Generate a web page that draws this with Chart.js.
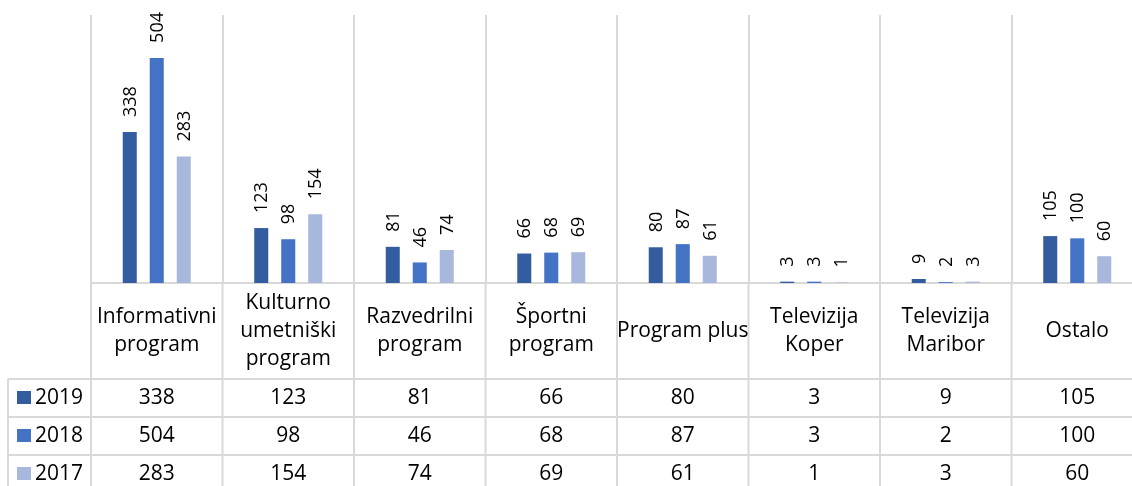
<!DOCTYPE html>
<html>
<head>
<meta charset="utf-8">
<script src="https://cdn.jsdelivr.net/npm/chart.js@4.4.1/dist/chart.umd.min.js"></script>
<style>
  body { margin: 0; overflow: hidden; background: #fff; }
  canvas { display: block; }
</style>
</head>
<body>
<canvas id="chart" width="1150" height="500"></canvas>
<script>
const categories = [
  ["Informativni", "program"],
  ["Kulturno", "umetniški", "program"],
  ["Razvedrilni", "program"],
  ["Športni", "program"],
  ["Program plus"],
  ["Televizija", "Koper"],
  ["Televizija", "Maribor"],
  ["Ostalo"],
];
const years = ["2019", "2018", "2017"];
const values2019 = [338, 123, 81, 66, 80, 3, 9, 105];
const values2018 = [504, 98, 46, 68, 87, 3, 2, 100];
const values2017 = [283, 154, 74, 69, 61, 1, 3, 60];
const colors = ["#345D9F", "#4472C4", "#A8B7DC"];

const FONT = "'Open Sans', sans-serif";
const GRID = "#D9D9D9";

// rotated value labels above each bar
const barLabels = {
  id: "barLabels",
  afterDatasetsDraw(chart) {
    const ctx = chart.ctx;
    ctx.save();
    ctx.fillStyle = "#000";
    ctx.font = "18px " + FONT;
    ctx.textAlign = "left";
    ctx.textBaseline = "middle";
    chart.data.datasets.forEach((ds, i) => {
      chart.getDatasetMeta(i).data.forEach((bar, j) => {
        ctx.save();
        ctx.translate(bar.x + 1, bar.y - 15);
        ctx.rotate(-Math.PI / 2);
        ctx.fillText(String(ds.data[j]), 0, 0);
        ctx.restore();
      });
    });
    ctx.restore();
  },
};

// data table under the plot, like Excel's
const dataTable = {
  id: "dataTable",
  afterDraw(chart) {
    const ctx = chart.ctx;
    const x = chart.scales.x;
    const half = (x.getPixelForValue(1) - x.getPixelForValue(0)) / 2;
    const top = chart.chartArea.bottom;
    const headerH = 96;
    const rowH = 38;
    const left = 8;
    const right = chart.chartArea.right;
    const bottom = top + headerH + rowH * years.length;
    const datasets = chart.data.datasets;

    ctx.save();
    ctx.strokeStyle = GRID;
    ctx.lineWidth = 2;
    ctx.beginPath();
    for (let i = 0; i <= categories.length; i++) {
      const bx = x.getPixelForValue(0) - half + i * half * 2;
      ctx.moveTo(bx, top);
      ctx.lineTo(bx, bottom);
    }
    ctx.moveTo(left, top + headerH);
    ctx.lineTo(left, bottom);
    for (let r = 0; r <= years.length; r++) {
      const y = top + headerH + r * rowH;
      ctx.moveTo(left, y);
      ctx.lineTo(right, y);
    }
    ctx.stroke();

    ctx.fillStyle = "#000";
    ctx.font = "21px " + FONT;
    ctx.textAlign = "center";
    ctx.textBaseline = "middle";
    const lineH = 28;
    categories.forEach((lines, i) => {
      const cx = x.getPixelForValue(i);
      const cy = top + headerH / 2;
      lines.forEach((t, k) => {
        ctx.fillText(t, cx, cy + (k - (lines.length - 1) / 2) * lineH);
      });
    });

    datasets.forEach((ds, r) => {
      const cy = top + headerH + r * rowH + rowH / 2;
      ds.data.forEach((v, i) => {
        ctx.fillStyle = "#000";
        ctx.textAlign = "center";
        ctx.fillText(String(v), x.getPixelForValue(i), cy);
      });
      ctx.fillStyle = ds.backgroundColor;
      ctx.fillRect(17, cy - 7, 14, 13);
      ctx.fillStyle = "#000";
      ctx.textAlign = "left";
      ctx.fillText(ds.label, 35, cy);
    });
    ctx.restore();
  },
};

new Chart(document.getElementById("chart"), {
  type: "bar",
  data: {
    labels: categories,
    datasets: [
      { label: years[0], data: values2019, backgroundColor: colors[0] },
      { label: years[1], data: values2018, backgroundColor: colors[1] },
      { label: years[2], data: values2017, backgroundColor: colors[2] },
    ],
  },
  options: {
    responsive: false,
    animation: false,
    layout: { padding: { left: 91, right: 7, top: 15, bottom: 217 } },
    datasets: { bar: { categoryPercentage: 0.616, barPercentage: 0.52 } },
    plugins: { legend: { display: false }, tooltip: { enabled: false } },
    scales: {
      x: {
        grid: { color: GRID, lineWidth: 2, offset: true, drawTicks: false },
        border: { color: GRID, width: 2 },
        ticks: { display: false },
        afterFit(scale) { scale.height = 0; },
      },
      y: { display: false, min: 0, max: 600 },
    },
  },
  plugins: [barLabels, dataTable],
});
</script>
</body>
</html>
